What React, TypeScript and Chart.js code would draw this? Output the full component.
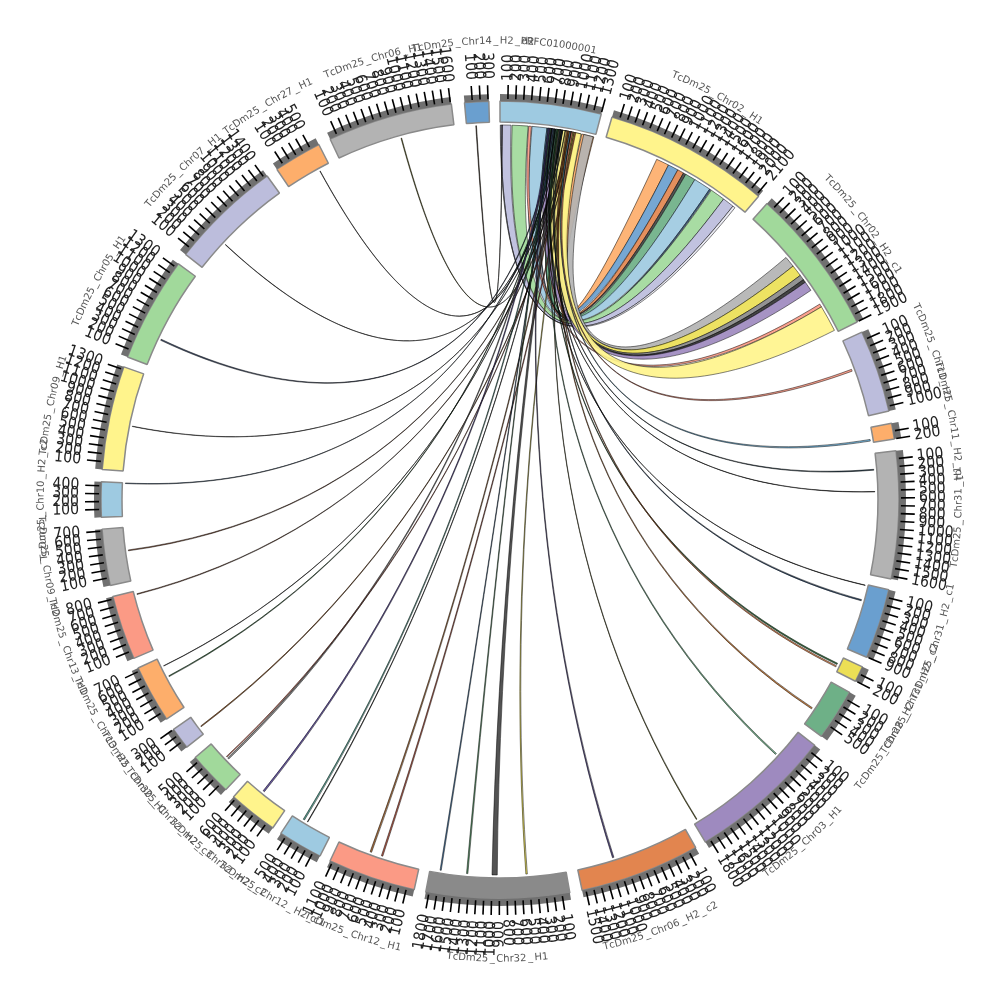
import React, { useEffect, useRef } from "react";
import { Chart, registerables } from "chart.js";

Chart.register(...registerables);

const sectorNames = [
  "PRFC01000001", "TcDm25_Chr02_H1", "TcDm25_Chr02_H2_c1", "TcDm25_Chr11_H1", "TcDm25_Chr11_H2_c1",
  "TcDm25_Chr31_H1", "TcDm25_Chr31_H2_c1", "TcDm25_Chr31_H2_c2", "TcDm25_Chr28_H2", "TcDm25_Chr03_H1",
  "TcDm25_Chr06_H2_c2", "TcDm25_Chr32_H1", "TcDm25_Chr12_H1", "TcDm25_Chr12_H2_c1", "TcDm25_Chr32_H2_c2",
  "TcDm25_Chr32_H2_c3", "TcDm25_Chr30_H1", "TcDm25_Chr13_H2", "TcDm25_Chr13_H1", "TcDm25_Chr09_H2",
  "TcDm25_Chr10_H2_c2", "TcDm25_Chr09_H1", "TcDm25_Chr05_H1", "TcDm25_Chr07_H1", "TcDm25_Chr27_H1",
  "TcDm25_Chr06_H1", "TcDm25_Chr14_H2_d2",
];
const sectorColors = [
  "#9ecae1", "#fff48c", "#a1d99b", "#bcbddc", "#fdae6b", "#b3b3b3", "#6a9fcf", "#ecdf55", "#6eb087",
  "#9e8abf", "#e2854f", "#8a8a8a", "#fb9a85", "#9ecae1", "#fff48c", "#a1d99b", "#bcbddc", "#fdae6b",
  "#fb9a85", "#b3b3b3", "#9ecae1", "#fff48c", "#a1d99b", "#bcbddc", "#fdae6b", "#b3b3b3", "#6a9fcf",
];
const sectorSizes = [1301, 2133, 1903, 1062, 204, 1637, 903, 204, 664, 1867, 1549, 1841, 1133, 575, 637, 566, 283, 743, 832, 726, 451, 1336, 1354, 1443, 620, 1611, 310];
const sectorGaps = [142, 142, 142, 159, 150, 142, 133, 159, 142, 142, 159, 150, 142, 124, 133, 168, 159, 133, 142, 150, 159, 133, 150, 150, 159, 168, 142];
const tickCounts = [13, 21, 19, 10, 2, 16, 9, 2, 5, 18, 15, 18, 11, 5, 6, 5, 3, 7, 8, 7, 4, 13, 13, 14, 5, 16, 3];

// every link runs from a position on sector 0 to a position on another sector
const linkSector = [
  1, 1, 1, 1, 1, 1, 1, 1, 1, 1,
  2, 2, 2, 2, 2, 2, 2,
  26, 25, 24, 23, 22, 21, 20, 19, 18, 17, 17, 16, 15, 15, 14, 13, 13, 12, 12, 11, 11, 11, 11, 10, 9, 9, 8, 7, 7, 6, 6, 5, 5, 4, 3,
];
const linkStart = [
  743, 920, 1062, 1150, 1186, 1328, 1566, 1593, 1797, 1956,
  681, 832, 991, 1062, 1106, 1460, 1504,
  124, 876, 469, 434, 372, 611, 443, 407, 779, 620, 460, 97, 257, 292, 372, 407, 354, 673, 513, 1690, 1327, 929, 522, 1035, 1805, 407, 425, 97, 133, 212, 9, 212, 513, 159, 398,
];
const linkEnd = [
  920, 1062, 1150, 1186, 1328, 1566, 1584, 1797, 1956, 1991,
  832, 991, 1062, 1106, 1239, 1504, 1867,
  134, 886, 474, 439, 388, 616, 451, 419, 789, 625, 472, 109, 277, 304, 394, 427, 362, 695, 533, 1706, 1345, 1000, 542, 1055, 1815, 425, 445, 115, 151, 228, 14, 224, 518, 181, 424,
];
const linkHomeStart = [
  1115, 797, 894, 779, 770, 434, 637, 164, 13, 4,
  1142, 947, 912, 876, 655, 389, 779,
  27, 840, 752, 814, 726, 885, 788, 938, 973, 850, 761, 1000, 699, 956, 673, 735, 832, 920, 1018, 708, 681, 797, 991, 655, 965, 761, 929, 779, 903, 841, 699, 814, 743, 947, 973,
];
const linkHomeEnd = [
  1283, 920, 947, 797, 894, 637, 655, 381, 150, 13,
  1274, 1097, 965, 903, 770, 425, 1106,
  32, 846, 756, 818, 736, 889, 794, 946, 981, 854, 769, 1008, 713, 964, 689, 749, 838, 934, 1032, 718, 693, 827, 1005, 669, 971, 773, 943, 791, 915, 851, 703, 822, 747, 961, 989,
];
const linkColors = [
  "#fdae6b", "#6a9fcf", "#e2854f", "#444444", "#6eb087", "#9ecae1", "#35608c", "#a1d99b", "#bcbddc", "#e8e8f2",
  "#b3b3b3", "#ecdf55", "#8a8a8a", "#333333", "#9e8abf", "#fb9a85", "#fff48c",
  "#3a2a1a", "#6b6b1f", "#111111", "#111111", "#3a4a6a", "#111111", "#35608c", "#8a4a2a", "#8a4a2a", "#111111", "#2f6b3a", "#a0622d", "#888888", "#e0705a", "#5b4a9a", "#4a9a8a", "#111111", "#a0622d", "#b0503d", "#3a6a9a", "#4a8a5a", "#444444", "#ecdf55", "#4a3f7a", "#6b6b1f", "#6eb087", "#c0702a", "#2f6b3a", "#e2854f", "#2f4a6a", "#111111", "#2f4a5a", "#111111", "#6aaed6", "#fb9a85",
];

const GAP = "rgba(0,0,0,0)";
const LINK_R = 375;
const PULL = 0.37;
const TICK_IN = 401;
const TICK_OUT = 415;
const TICK_TEXT_R = 419;
const NAME_R = 459;

const alternate = (a: any[], b: any[]) => a.flatMap((v, i) => [v, b[i]]);

const circosPlugin = {
  id: "circos",
  afterDatasetsDraw(chart: any) {
    const { ctx } = chart;
    const arcs = chart.getDatasetMeta(1).data;
    const sector = (i: number) => arcs[i * 2];
    const angleAt = (i: number, u: number) => {
      const a = sector(i);
      return a.startAngle + (u / sectorSizes[i]) * (a.endAngle - a.startAngle);
    };
    const cx = sector(0).x;
    const cy = sector(0).y;
    const pt = (ang: number, r: number) => [cx + r * Math.cos(ang), cy + r * Math.sin(ang)];

    ctx.save();
    // links
    linkSector.forEach((s, k) => {
      const a1 = angleAt(0, linkHomeStart[k]);
      const a2 = angleAt(0, linkHomeEnd[k]);
      const b1 = angleAt(s, linkStart[k]);
      const b2 = angleAt(s, linkEnd[k]);
      const start = pt(a1, LINK_R);
      const c1 = pt(a1, LINK_R * PULL);
      const c2 = pt(b2, LINK_R * PULL);
      const mid = pt(b2, LINK_R);
      const c3 = pt(b1, LINK_R * PULL);
      const c4 = pt(a2, LINK_R * PULL);
      const back = pt(a2, LINK_R);
      ctx.beginPath();
      ctx.moveTo(start[0], start[1]);
      ctx.bezierCurveTo(c1[0], c1[1], c2[0], c2[1], mid[0], mid[1]);
      ctx.arc(cx, cy, LINK_R, b2, b1, true);
      ctx.bezierCurveTo(c3[0], c3[1], c4[0], c4[1], back[0], back[1]);
      ctx.arc(cx, cy, LINK_R, a2, a1, true);
      ctx.closePath();
      ctx.globalAlpha = 0.92;
      ctx.fillStyle = linkColors[k];
      ctx.fill();
      ctx.globalAlpha = 1;
      ctx.lineWidth = 0.55;
      ctx.strokeStyle = "rgba(0,0,0,0.9)";
      ctx.stroke();
    });

    // ticks and their labels
    sectorNames.forEach((_, i) => {
      const unit = Math.min(100, sectorSizes[i] / tickCounts[i]);
      for (let t = 1; t <= tickCounts[i]; t++) {
        const ang = angleAt(i, t * unit);
        const p0 = pt(ang, TICK_IN);
        const p1 = pt(ang, TICK_OUT);
        ctx.beginPath();
        ctx.moveTo(p0[0], p0[1]);
        ctx.lineTo(p1[0], p1[1]);
        ctx.lineWidth = 1.6;
        ctx.strokeStyle = "#000";
        ctx.stroke();
        const clock = ((ang + Math.PI / 2 + Math.PI * 4) % (Math.PI * 2));
        const rightSide = clock < Math.PI;
        const tp = pt(ang, rightSide ? TICK_TEXT_R : TICK_TEXT_R + 2);
        ctx.save();
        ctx.translate(tp[0], tp[1]);
        ctx.rotate(rightSide ? ang : ang + Math.PI);
        ctx.scale(0.97, 1.1);
        ctx.font = '14.5px "DejaVu Sans"';
        ctx.fillStyle = "#222";
        ctx.textAlign = rightSide ? "left" : "right";
        ctx.textBaseline = "middle";
        ctx.fillText(String(t * 100), 0, 0);
        ctx.restore();
      }
    });

    // sector names set along the arc
    ctx.font = '10px "DejaVu Sans"';
    ctx.fillStyle = "#555";
    ctx.textAlign = "left";
    ctx.textBaseline = "middle";
    sectorNames.forEach((name, i) => {
      const a = sector(i);
      const midAng = (a.startAngle + a.endAngle) / 2;
      const clock = ((midAng + Math.PI / 2 + Math.PI * 4) % (Math.PI * 2));
      const flipped = clock > Math.PI / 2 && clock < (Math.PI * 3) / 2;
      const chars = Array.from(name);
      const adv = chars.map((c) => ctx.measureText(c).width + (c === "_" ? 3 : 0));
      const total = adv.reduce((x, y) => x + y, 0);
      let pos = -total / 2;
      chars.forEach((c, j) => {
        const along = pos + adv[j] / 2;
        const ang = midAng + ((flipped ? -1 : 1) * along) / NAME_R;
        const p = pt(ang, NAME_R);
        ctx.save();
        ctx.translate(p[0], p[1]);
        ctx.rotate(flipped ? ang - Math.PI / 2 : ang + Math.PI / 2);
        ctx.fillText(c, -ctx.measureText(c).width / 2, 0);
        ctx.restore();
        pos += adv[j];
      });
    });
    ctx.restore();
  },
};

export default function App() {
  const ref = useRef<HTMLCanvasElement | null>(null);
  useEffect(() => {
    if (!ref.current) return;
    const values = alternate(sectorSizes, sectorGaps);
    const chart = new Chart(ref.current, {
      type: "doughnut",
      data: {
        labels: alternate(sectorNames, sectorNames.map(() => "")),
        datasets: [
          {
            label: "band",
            data: values,
            weight: 7,
            backgroundColor: alternate(sectorNames.map(() => "#707070"), sectorNames.map(() => GAP)),
            borderWidth: 0,
          },
          {
            label: "sectors",
            data: values,
            weight: 21,
            backgroundColor: alternate(sectorColors, sectorColors.map(() => GAP)),
            borderColor: alternate(sectorColors.map(() => "#8a8a8a"), sectorColors.map(() => GAP)),
            borderWidth: alternate(sectorColors.map(() => 1.5), sectorColors.map(() => 0)),
            borderAlign: "center",
          },
        ],
      } as any,
      options: {
        animation: false,
        responsive: false,
        devicePixelRatio: 1,
        events: [],
        radius: 406,
        cutout: "93.1%",
        rotation: 0,
        circumference: 360,
        layout: { padding: 0 },
        plugins: { legend: { display: false }, tooltip: { enabled: false }, title: { display: false } },
      } as any,
      plugins: [circosPlugin],
    });
    return () => chart.destroy();
  }, []);
  return (
    <div style={{ position: "absolute", left: 0, top: 0, width: 1000, height: 1000, background: "#fff" }}>
      <canvas ref={ref} width={1000} height={1000} style={{ display: "block" }} />
    </div>
  );
}
